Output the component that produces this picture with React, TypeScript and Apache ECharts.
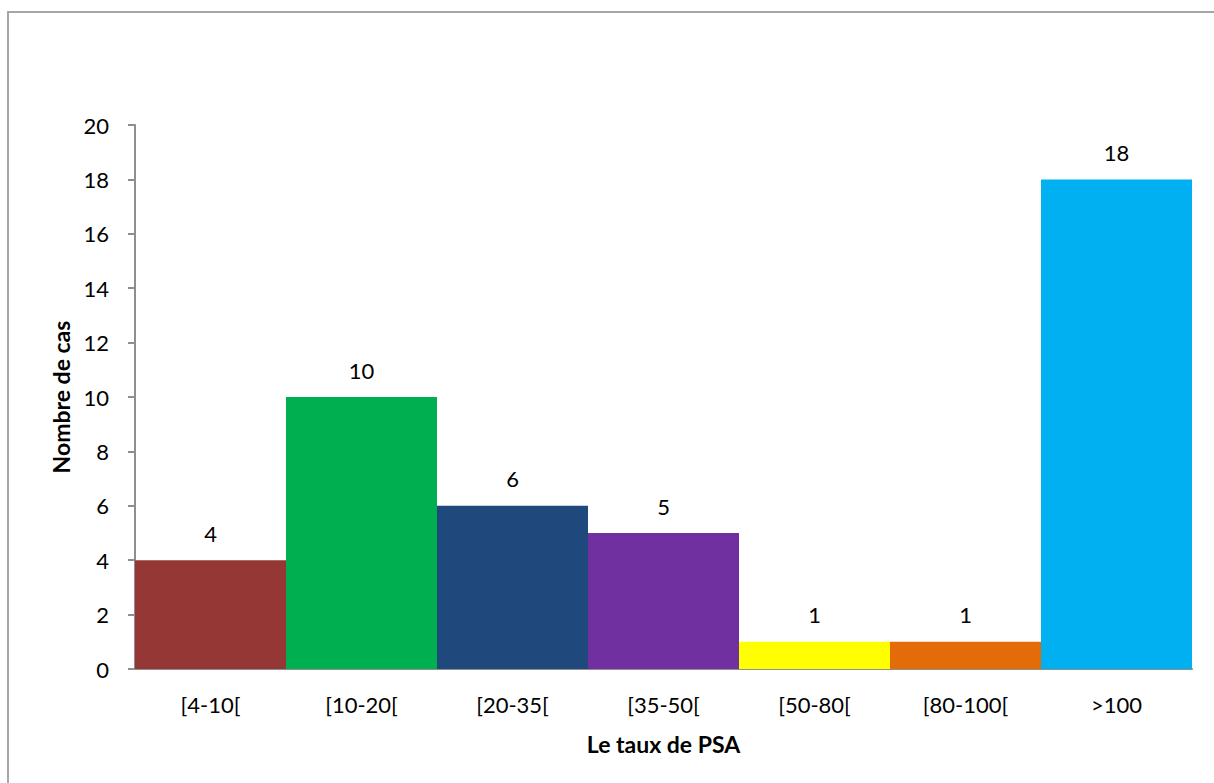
import React, { useEffect, useRef } from "react";
import * as echarts from "echarts";

const categories = ["[4-10[", "[10-20[", "[20-35[", "[35-50[", "[50-80[", "[80-100[", ">100"];
const counts = [4, 10, 6, 5, 1, 1, 18];
const barColors = ["#953735", "#00B050", "#1F497D", "#7030A0", "#FFFF00", "#E36C09", "#00B0F0"];

const FONT = "Lato, 'Open Sans', sans-serif";

export default function App() {
  const ref = useRef<HTMLDivElement>(null);

  useEffect(() => {
    if (!ref.current) return;
    const chart = echarts.init(ref.current, null, { renderer: "svg" });
    chart.setOption({
      animation: false,
      backgroundColor: "#ffffff",
      textStyle: { fontFamily: FONT },
      graphic: [
        {
          type: "rect",
          shape: { x: 8, y: 12, width: 1220, height: 790 },
          style: { fill: "none", stroke: "#a6a6a6", lineWidth: 2 },
          silent: true,
        },
      ],
      grid: { left: 135, right: 22, top: 125, bottom: 114, containLabel: false },
      xAxis: {
        type: "category",
        data: categories,
        name: "Le taux de PSA",
        nameLocation: "middle",
        nameGap: 63,
        nameTextStyle: { fontFamily: FONT, fontSize: 23, fontWeight: "bold", color: "#000" },
        axisLine: { lineStyle: { color: "#8e8e8e", width: 2 } },
        axisTick: { show: false },
        axisLabel: { color: "#000", fontSize: 22, fontFamily: FONT, margin: 24 },
      },
      yAxis: {
        type: "value",
        min: 0,
        max: 20,
        interval: 2,
        name: "Nombre de cas",
        nameLocation: "middle",
        nameGap: 58,
        nameTextStyle: { fontFamily: FONT, fontSize: 23, fontWeight: "bold", color: "#000" },
        axisLine: { show: true, lineStyle: { color: "#8e8e8e", width: 2 } },
        axisTick: { show: true, length: 7, lineStyle: { color: "#8e8e8e", width: 2 } },
        axisLabel: { color: "#000", fontSize: 22, fontFamily: FONT, margin: 26 },
        splitLine: { show: false },
      },
      series: [
        {
          type: "bar",
          barCategoryGap: "0%",
          data: counts.map((v, i) => ({ value: v, itemStyle: { color: barColors[i] } })),
          label: {
            show: true,
            position: "top",
            distance: 16,
            color: "#000",
            fontSize: 22,
            fontFamily: FONT,
          },
        },
      ],
    });
    return () => chart.dispose();
  }, []);

  return (
    <div
      ref={ref}
      style={{ position: "fixed", left: 0, top: 0, width: 1214, height: 783 }}
    />
  );
}
